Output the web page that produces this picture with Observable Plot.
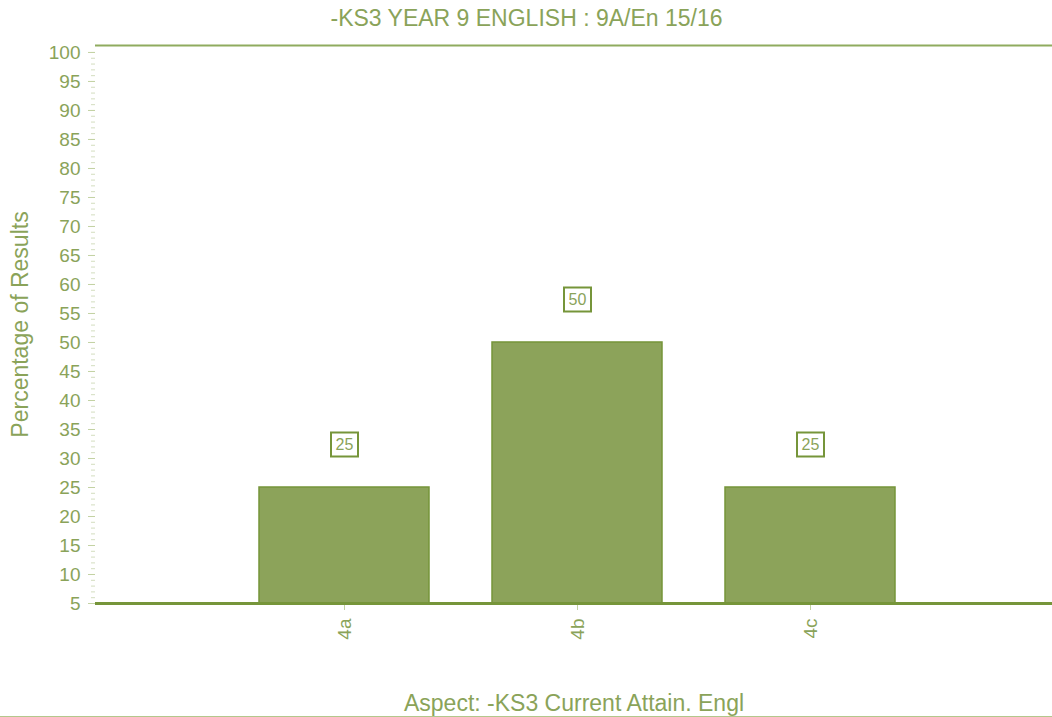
<!DOCTYPE html>
<html>
<head>
<meta charset="utf-8">
<script src="https://cdn.jsdelivr.net/npm/d3@7"></script>
<script src="https://cdn.jsdelivr.net/npm/@observablehq/plot@0.6"></script>
<style>
  html, body { margin: 0; padding: 0; background: #fff; }
  #chart { width: 1052px; height: 716px; border-bottom: 1px solid #b3c78c; overflow: hidden; }
  svg { display: block; }
</style>
</head>
<body>
<div id="chart"></div>
<script>
const title = "-KS3 YEAR 9 ENGLISH : 9A/En 15/16";
const xLabel = "Aspect: -KS3 Current Attain. Engl";
const yLabel = "Percentage of Results";
const categories = ["4a", "4b", "4c"];
const values = [25, 50, 25];
const yMajorTicks = [5,10,15,20,25,30,35,40,45,50,55,60,65,70,75,80,85,90,95,100];
const yMinorTicks = d3.range(5, 101, 1);

const data = categories.map((c, i) => ({category: c, value: values[i]}));

const TEXT = "#8aa359";
const LINE = "#76953a";
const FILL = "#8ca35a";
const TICK = "#c3d2a3";
const MINOR = "#d3ddbf";
const FONT = "'Liberation Sans', Arial, sans-serif";

const box = { draw(ctx) { ctx.rect(-13.5, -12, 27, 24); } };

const chart = Plot.plot({
  width: 1052,
  height: 716,
  marginLeft: 95,
  marginRight: 0,
  marginTop: 45,
  marginBottom: 113,
  style: { fontFamily: FONT, fontSize: "19px", color: TEXT, background: "#fff" },
  x: { domain: categories, range: [227.5, 926.5], paddingInner: 0.27, paddingOuter: 0.135 },
  y: { domain: [5, 101.2] },
  marks: [
    Plot.axisY({ ticks: yMinorTicks, tickSize: 4, stroke: MINOR, tickFormat: () => "", label: null }),
    Plot.axisY({ ticks: yMajorTicks, tickSize: 7, tickPadding: 8, stroke: TICK, fill: TEXT, fontSize: 19, label: null }),
    Plot.axisX({ tickSize: 7, tickPadding: 8, stroke: TICK, fill: TEXT, fontSize: 19, tickRotate: -90, label: null }),
    Plot.barY(data, { x: "category", y1: 5, y2: "value", fill: FILL, stroke: LINE, strokeWidth: 1.5 }),
    Plot.ruleY([5], { stroke: LINE, strokeWidth: 3 }),
    Plot.ruleY([101.2], { stroke: "#8fab5f", strokeWidth: 2 }),
    Plot.ruleX([0], { x: () => 0, stroke: LINE, strokeWidth: 3.5, frameAnchor: "left", y1: 5, y2: 101.2 }),
    Plot.dot(data, { x: "category", y: "value", dy: -43, symbol: box, r: 10, fill: "#fff", stroke: LINE, strokeWidth: 2 }),
    Plot.text(data, { x: "category", y: "value", text: d => String(d.value), dy: -43, fill: TEXT, fontSize: 16, stroke: null }),
    Plot.text([title], { frameAnchor: "top-left", dx: 431, dy: -27, textAnchor: "middle", lineAnchor: "middle", fill: TEXT, fontSize: 23 }),
    Plot.text([xLabel], { frameAnchor: "bottom", dy: 100, textAnchor: "middle", lineAnchor: "middle", fill: TEXT, fontSize: 23 }),
    Plot.text([yLabel], { frameAnchor: "left", dx: -75, rotate: -90, textAnchor: "middle", lineAnchor: "middle", fill: TEXT, fontSize: 23 })
  ]
});
document.getElementById("chart").appendChild(chart);
</script>
</body>
</html>
